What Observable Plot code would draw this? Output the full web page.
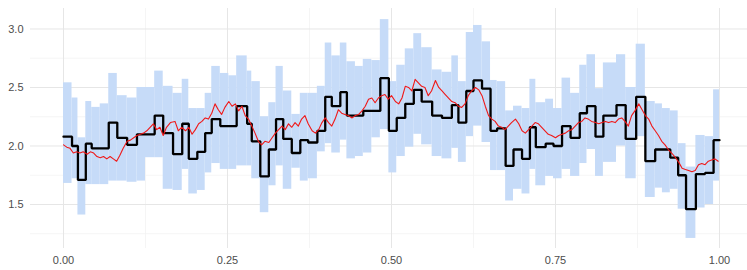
<!DOCTYPE html>
<html>
<head>
<meta charset="utf-8">
<script src="https://cdn.jsdelivr.net/npm/d3@7"></script>
<script src="https://cdn.jsdelivr.net/npm/@observablehq/plot@0.6"></script>
<style>
  html, body { margin: 0; padding: 0; background: #fff; }
  #chart { width: 747px; height: 270px; }
</style>
</head>
<body>
<div id="chart"></div>
<script>
// ---- data ----
const binStart = [0,0.013,0.022,0.034,0.043,0.056,0.069,0.082,0.097,0.112,0.125,0.139,0.152,0.167,0.181,0.191,0.204,0.216,0.226,0.239,0.252,0.264,0.280,0.287,0.300,0.313,0.324,0.335,0.348,0.361,0.373,0.387,0.399,0.409,0.422,0.432,0.445,0.457,0.470,0.483,0.496,0.508,0.521,0.534,0.546,0.562,0.577,0.592,0.602,0.614,0.625,0.638,0.651,0.661,0.674,0.686,0.699,0.711,0.720,0.735,0.747,0.760,0.773,0.787,0.798,0.811,0.823,0.843,0.857,0.873,0.887,0.902,0.913,0.925,0.937,0.949,0.964,0.978,0.991];
const binEnd = 1.0;
const stepValue = [2.08,2.00,1.71,2.02,1.98,1.98,2.20,2.07,2.01,2.10,2.10,2.26,2.11,1.93,2.19,1.89,1.95,2.11,2.23,2.17,2.17,2.34,2.19,2.04,1.74,1.97,2.23,2.06,1.94,2.05,2.03,2.13,2.42,2.34,2.46,2.26,2.26,2.30,2.30,2.58,2.13,2.24,2.36,2.48,2.38,2.26,2.24,2.35,2.20,2.47,2.56,2.49,2.13,2.15,1.83,1.97,1.89,2.16,1.99,2.02,2.00,2.17,2.07,2.28,2.34,2.08,2.26,2.35,2.06,2.42,1.87,1.97,1.97,1.90,1.75,1.46,1.76,1.77,2.05];
const bandLow = [1.68,1.72,1.41,1.67,1.67,1.67,1.70,1.70,1.69,1.70,1.90,1.90,1.63,1.62,1.80,1.59,1.62,1.77,1.85,1.80,1.80,1.83,1.83,1.72,1.43,1.66,1.83,1.63,1.81,1.70,1.72,1.95,2.02,1.94,2.05,1.89,1.91,1.94,2.07,2.14,1.77,1.91,1.99,2.10,2.01,1.91,1.89,1.98,1.86,2.08,2.17,2.03,1.79,1.79,1.53,1.63,1.59,1.80,1.66,1.74,1.72,1.80,1.74,1.85,1.97,1.74,1.86,2.00,1.72,2.08,1.56,1.64,1.60,1.63,1.46,1.21,1.47,1.50,1.70];
const bandHigh = [2.54,2.41,2.07,2.38,2.33,2.36,2.62,2.43,2.41,2.50,2.50,2.64,2.51,2.45,2.57,2.32,2.32,2.45,2.68,2.62,2.60,2.77,2.64,2.55,2.25,2.37,2.68,2.47,2.27,2.45,2.45,2.51,2.88,2.77,2.88,2.72,2.68,2.74,2.73,3.08,2.55,2.69,2.83,2.96,2.84,2.65,2.63,2.77,2.55,2.97,3.03,2.89,2.56,2.55,2.30,2.34,2.32,2.57,2.37,2.40,2.32,2.58,2.45,2.69,2.78,2.49,2.71,2.78,2.50,2.87,2.38,2.36,2.32,2.30,2.02,1.82,2.09,2.08,2.48];
const redX = [0.000,0.005,0.010,0.015,0.020,0.025,0.030,0.036,0.041,0.046,0.051,0.056,0.061,0.066,0.071,0.076,0.081,0.086,0.091,0.097,0.102,0.107,0.112,0.117,0.122,0.127,0.132,0.137,0.142,0.147,0.152,0.157,0.163,0.170,0.175,0.180,0.186,0.191,0.196,0.201,0.206,0.211,0.216,0.221,0.226,0.231,0.236,0.241,0.246,0.252,0.257,0.262,0.267,0.272,0.277,0.282,0.287,0.292,0.297,0.302,0.307,0.313,0.318,0.323,0.328,0.333,0.338,0.343,0.348,0.353,0.358,0.363,0.368,0.373,0.379,0.384,0.389,0.394,0.399,0.404,0.409,0.414,0.419,0.424,0.429,0.434,0.440,0.445,0.450,0.455,0.460,0.465,0.470,0.475,0.480,0.485,0.490,0.495,0.500,0.506,0.511,0.516,0.521,0.526,0.531,0.536,0.541,0.546,0.551,0.556,0.561,0.567,0.572,0.577,0.582,0.587,0.592,0.597,0.602,0.607,0.612,0.617,0.622,0.628,0.633,0.638,0.643,0.648,0.653,0.658,0.663,0.668,0.673,0.678,0.683,0.689,0.694,0.699,0.704,0.709,0.714,0.719,0.724,0.729,0.734,0.739,0.744,0.750,0.755,0.760,0.765,0.770,0.775,0.780,0.785,0.790,0.795,0.800,0.805,0.811,0.816,0.821,0.826,0.831,0.836,0.841,0.846,0.851,0.856,0.861,0.866,0.871,0.877,0.882,0.887,0.892,0.897,0.902,0.907,0.912,0.917,0.922,0.927,0.933,0.938,0.943,0.948,0.953,0.958,0.963,0.968,0.973,0.978,0.983,0.988,0.993,0.998];
const redY = [2.01,1.99,1.98,1.94,1.95,1.94,1.95,1.93,1.95,1.94,1.91,1.90,1.91,1.89,1.91,1.89,1.87,1.92,1.98,2.04,2.05,2.07,2.09,2.10,2.11,2.13,2.16,2.19,2.14,2.16,2.09,2.16,2.20,2.21,2.13,2.16,2.13,2.16,2.10,2.14,2.19,2.21,2.24,2.23,2.28,2.36,2.31,2.27,2.33,2.38,2.34,2.36,2.30,2.34,2.26,2.23,2.17,2.11,2.04,2.01,2.04,2.03,2.07,2.11,2.14,2.17,2.14,2.19,2.16,2.20,2.17,2.23,2.26,2.19,2.13,2.11,2.14,2.20,2.24,2.20,2.17,2.23,2.31,2.28,2.27,2.26,2.24,2.26,2.27,2.30,2.34,2.40,2.41,2.37,2.41,2.43,2.44,2.40,2.43,2.38,2.36,2.41,2.51,2.50,2.47,2.57,2.54,2.51,2.50,2.43,2.47,2.56,2.50,2.47,2.44,2.41,2.38,2.37,2.34,2.33,2.36,2.43,2.47,2.50,2.48,2.43,2.34,2.26,2.23,2.21,2.17,2.16,2.14,2.17,2.20,2.23,2.19,2.13,2.11,2.14,2.17,2.20,2.19,2.16,2.13,2.10,2.09,2.07,2.09,2.10,2.11,2.13,2.14,2.17,2.20,2.21,2.24,2.23,2.21,2.20,2.19,2.20,2.21,2.20,2.21,2.20,2.23,2.24,2.21,2.17,2.26,2.30,2.36,2.31,2.26,2.23,2.17,2.13,2.09,2.04,2.01,1.97,1.94,1.90,1.86,1.81,1.80,1.79,1.78,1.79,1.84,1.85,1.84,1.87,1.88,1.89,1.87];
const xTicks = [0, 0.25, 0.5, 0.75, 1];
const xTickLabels = ["0.00", "0.25", "0.50", "0.75", "1.00"];
const xMinor = [0.125, 0.375, 0.625, 0.875];
const yTicks = [1.5, 2.0, 2.5, 3.0];
const yTickLabels = ["1.5", "2.0", "2.5", "3.0"];
const yMinor = [1.25, 1.75, 2.25, 2.75];

// ---- derived tables ----
const bands = binStart.map((x, i) => ({
  x1: x, x2: i + 1 < binStart.length ? binStart[i + 1] : binEnd,
  lo: bandLow[i], hi: bandHigh[i]
}));
const steps = binStart.map((x, i) => ({x, y: stepValue[i]}));
steps.push({x: binEnd, y: stepValue[stepValue.length - 1]});
const red = redX.map((x, i) => ({x, y: redY[i]}));

const chart = Plot.plot({
  width: 747,
  height: 270,
  marginLeft: 30,
  marginRight: 0,
  marginTop: 8,
  marginBottom: 22,
  x: {domain: [-0.0503, 1.0427]},
  y: {domain: [1.124, 3.175]},
  style: {fontFamily: "'Liberation Sans', Arial, sans-serif", fontSize: "11px", color: "#4d4d4d", background: "#fff"},
  marks: [
    Plot.ruleX(xMinor, {stroke: "#f2f2f2", strokeWidth: 0.8}),
    Plot.ruleY(yMinor, {stroke: "#f2f2f2", strokeWidth: 0.8}),
    Plot.ruleX(xTicks, {stroke: "#e6e6e6", strokeWidth: 1}),
    Plot.ruleY(yTicks, {stroke: "#e6e6e6", strokeWidth: 1}),
    Plot.rect(bands, {x1: "x1", x2: "x2", y1: "lo", y2: "hi", fill: "#c6dbf8"}),
    Plot.line(steps, {x: "x", y: "y", curve: "step-after", stroke: "#000", strokeWidth: 2.3, strokeLinejoin: "miter"}),
    Plot.line(red, {x: "x", y: "y", stroke: "#f01818", strokeWidth: 1.1}),
    Plot.axisX(xTicks, {tickSize: 0, tickPadding: 8, tickFormat: d => xTickLabels[xTicks.indexOf(d)], fill: "#4d4d4d"}),
    Plot.axisY(yTicks, {tickSize: 0, tickPadding: 7, tickFormat: d => yTickLabels[yTicks.indexOf(d)], fill: "#4d4d4d"})
  ]
});
document.getElementById("chart").appendChild(chart);
</script>
</body>
</html>
